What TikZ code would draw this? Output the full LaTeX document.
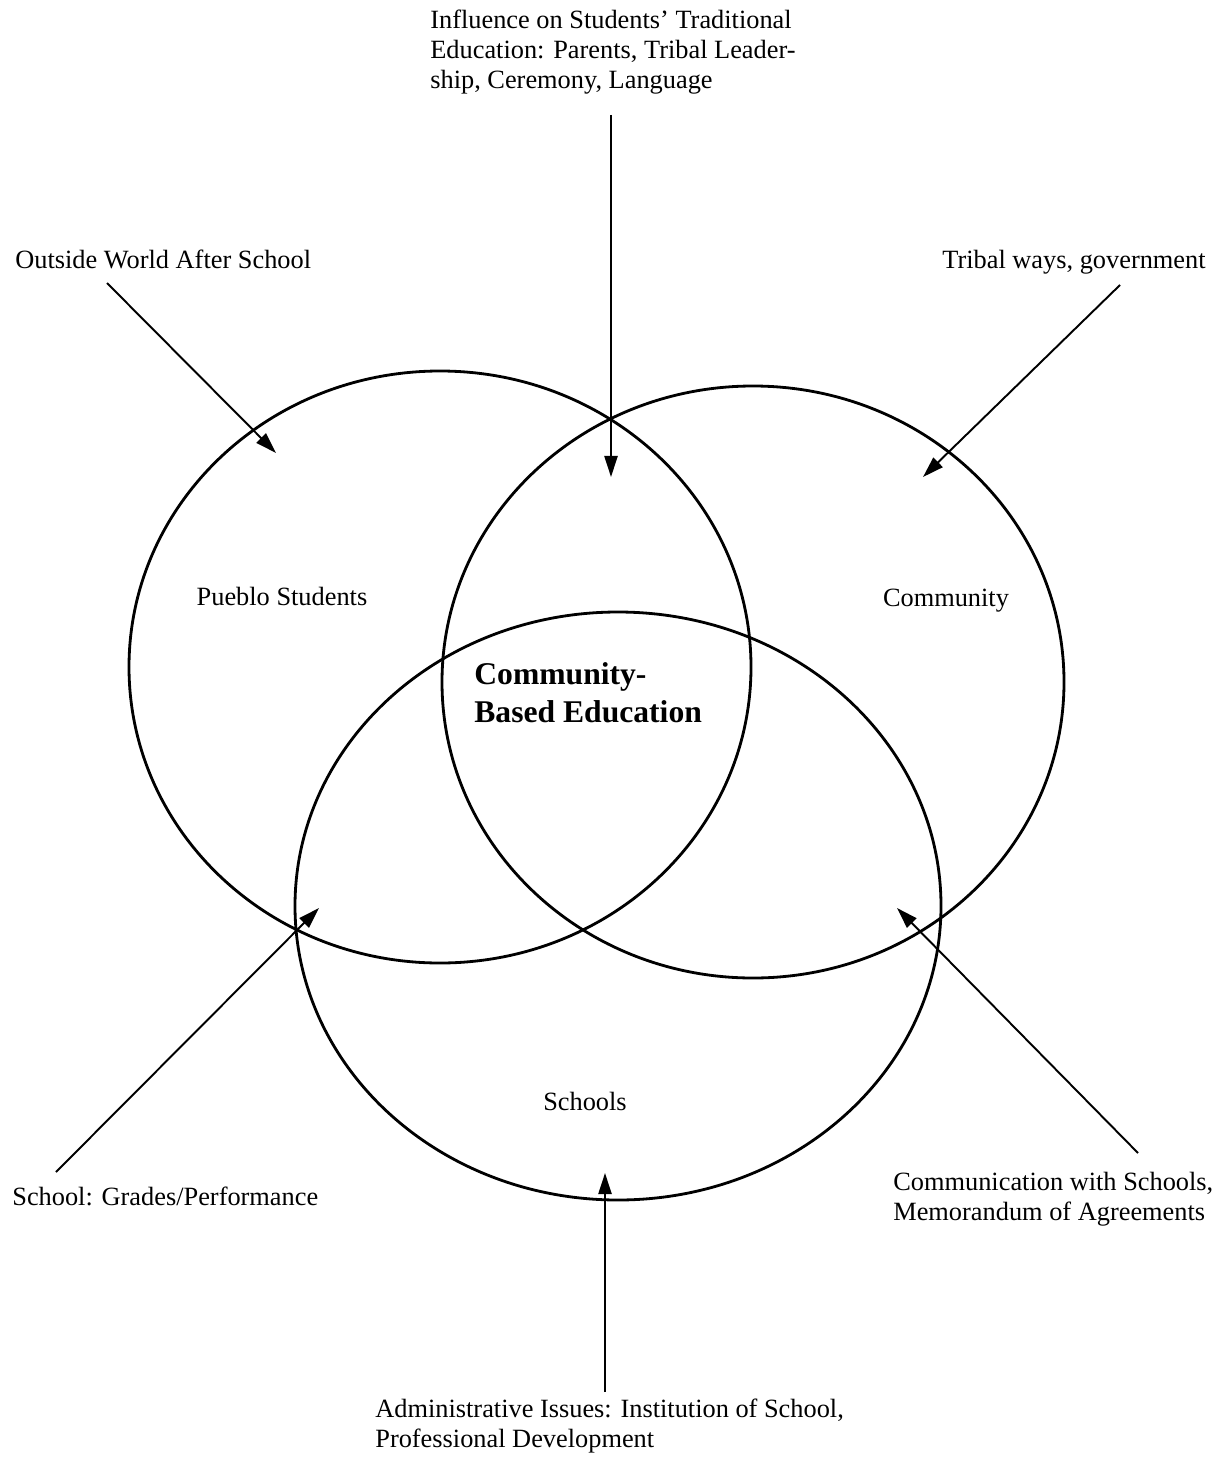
\documentclass[tikz,border=0pt]{standalone}
\usepackage{fontspec}
\setmainfont{Liberation Serif}
\usetikzlibrary{arrows.meta, positioning, calc}

\tikzset{
  ring/.style={draw, line width=1.6pt},
  txt/.style={inner sep=0pt, align=left, font=\fontsize{15}{17}\selectfont},
  centre/.style={inner sep=0pt, align=left, font=\fontsize{18}{21.5}\selectfont\bfseries},
  arrow/.style={-{Triangle[length=12pt, width=7.5pt]}, line width=1.1pt},
}

\begin{document}
\begin{tikzpicture}[x=0.02cm, y=-0.02cm]
\useasboundingbox (0,0) rectangle (1229,1463);

% three overlapping circles
\draw[ring] (440,667) ellipse [x radius=311, y radius=296];
\draw[ring] (753,682) ellipse [x radius=311, y radius=296];
\draw[ring] (618,906) ellipse [x radius=323, y radius=294];

% circle names and the middle
\node[txt, anchor=base] (students) at (282,605) {Pueblo Students};
\node[txt, anchor=base] (community) at (946,606) {Community};
\node[txt, anchor=base] (schools) at (585,1110) {Schools};
\node[centre, anchor=north west] (cbe) at (474,662) {Community-\\Based Education};

% outside influences
\node[txt, anchor=north west] (infl) at (430,10) {Influence on Students' Traditional\\Education: Parents, Tribal Leader-\\ship, Ceremony, Language};
\node[txt, anchor=base west] (world) at (15,268) {Outside World After School};
\node[txt, anchor=base east] (tribal) at (1206,268) {Tribal ways, government};
\node[txt, anchor=base west] (grades) at (12,1205) {School: Grades/Performance};
\node[txt, anchor=north west] (comm) at (893,1172) {Communication with Schools,\\Memorandum of Agreements};
\node[txt, anchor=north west] (admin) at (375,1399) {Administrative Issues: Institution of School,\\Professional Development};

% arrow ends
\coordinate (inflTail) at (611,115);
\coordinate (inflTip) at (611,477);
\coordinate (worldTail) at (107,283);
\coordinate (worldTip) at (276,453);
\coordinate (tribalTail) at (1120,285);
\coordinate (tribalTip) at (923,477);
\coordinate (gradesTail) at (56,1172);
\coordinate (gradesTip) at (319,908);
\coordinate (commTail) at (1138,1153);
\coordinate (commTip) at (897,908);
\coordinate (adminTail) at (605,1392);
\coordinate (adminTip) at (605,1173);

\draw[arrow] (inflTail) -- (inflTip);
\draw[arrow] (worldTail) -- (worldTip);
\draw[arrow] (tribalTail) -- (tribalTip);
\draw[arrow] (gradesTail) -- (gradesTip);
\draw[arrow] (commTail) -- (commTip);
\draw[arrow] (adminTail) -- (adminTip);
\end{tikzpicture}
\end{document}
